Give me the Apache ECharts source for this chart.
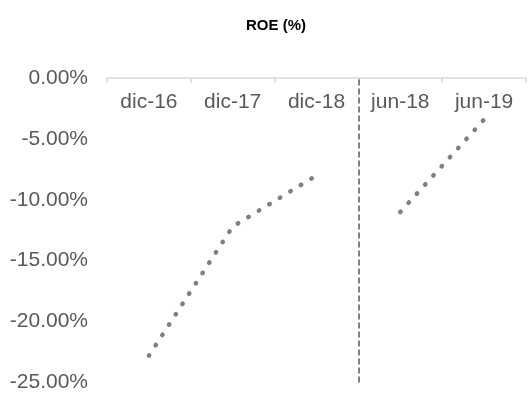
<!DOCTYPE html>
<html>
<head>
<meta charset="utf-8">
<script src="https://cdn.jsdelivr.net/npm/echarts@6/dist/echarts.min.js"></script>
<style>
  html, body { margin: 0; padding: 0; background: #fff; }
  #roe-chart { width: 528px; height: 393px; }
</style>
</head>
<body>
<div id="roe-chart"></div>
<script>
// chart data
const categories = ['dic-16', 'dic-17', 'dic-18', 'jun-18', 'jun-19'];
const annualRoe = [-22.8, -12.2, -8.0, '-', '-'];
const semesterRoe = ['-', '-', '-', -11.0, -3.4];
const yTicks = { min: -25, max: 0, interval: 5 };
const dividerAt = 3; // boundary between dic-18 and jun-18

const roeChart = echarts.init(document.getElementById('roe-chart'));

const labelColor = '#595959';
const lineColor = '#7f7f7f';
const font = 'Liberation Sans, Arial, sans-serif';

// dotted line look, like excel round dots
const dotStyle = {
    color: lineColor,
    width: 4.5,
    type: [0.5, 11.8],
    cap: 'round'
};

const option = {
    animation: false,
    title: {
        text: 'ROE (%)',
        left: 271,
        top: 13,
        textAlign: 'center',
        textStyle: {
            fontFamily: font,
            fontSize: 15,
            fontWeight: 'bold',
            color: '#000'
        }
    },
    grid: {
        left: 107,
        right: 2,
        top: 78,
        bottom: 9
    },
    xAxis: [
        {
            type: 'category',
            position: 'top',
            data: categories,
            boundaryGap: true,
            axisLine: { show: true, lineStyle: { color: '#d9d9d9', width: 1.5 } },
            axisTick: { show: true, inside: true, length: 5, lineStyle: { color: '#d9d9d9', width: 1.5 } },
            axisLabel: {
                inside: true,
                margin: 14,
                color: labelColor,
                fontSize: 21,
                fontFamily: font
            },
            splitLine: { show: false }
        },
        {
            // hidden helper axis, only used to place the divider on a category boundary
            type: 'value',
            min: 0,
            max: categories.length,
            show: false
        }
    ],
    yAxis: {
        type: 'value',
        min: yTicks.min,
        max: yTicks.max,
        interval: yTicks.interval,
        axisLine: { show: false },
        axisTick: { show: false },
        splitLine: { show: false },
        axisLabel: {
            margin: 19,
            color: labelColor,
            fontSize: 21,
            fontFamily: font,
            formatter: function (v) { return v.toFixed(2) + '%'; }
        }
    },
    series: [
        {
            name: 'ROE anual',
            type: 'line',
            data: annualRoe,
            symbol: 'none',
            lineStyle: dotStyle
        },
        {
            name: 'ROE semestral',
            type: 'line',
            data: semesterRoe,
            symbol: 'none',
            lineStyle: dotStyle
        },
        {
            name: 'divider',
            type: 'line',
            xAxisIndex: 1,
            data: [],
            markLine: {
                silent: true,
                symbol: 'none',
                label: { show: false },
                lineStyle: { color: '#808080', width: 2, type: [6, 3] },
                data: [{ xAxis: dividerAt }]
            }
        }
    ]
};

roeChart.setOption(option);
</script>
</body>
</html>
